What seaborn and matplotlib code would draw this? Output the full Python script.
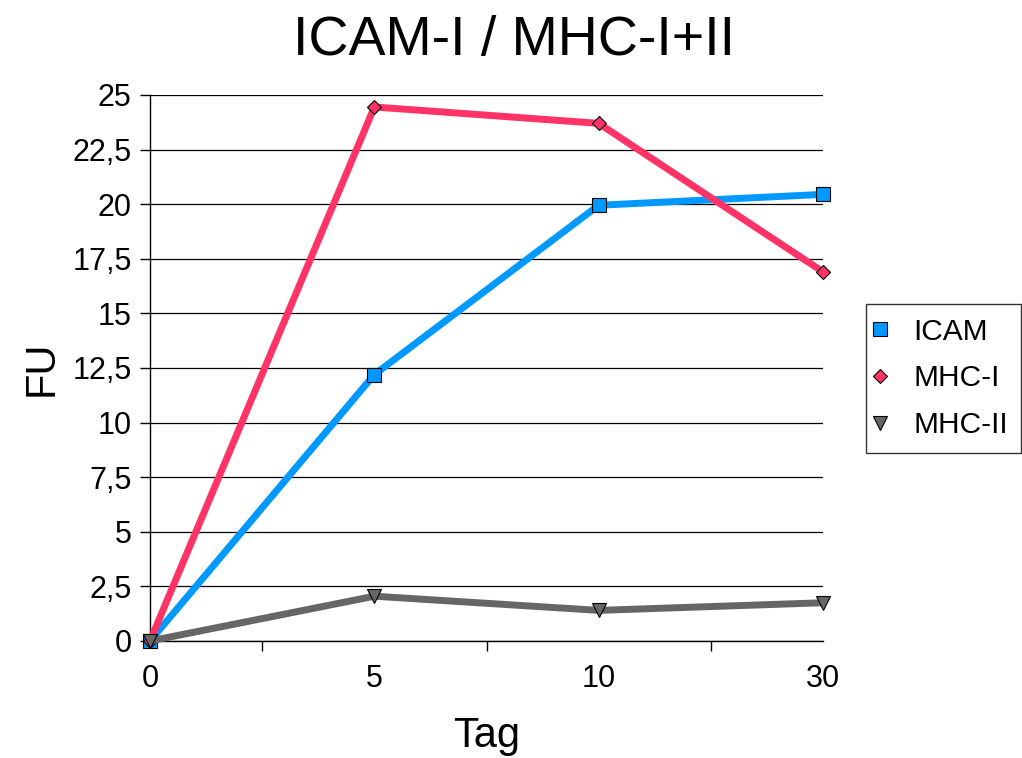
import matplotlib
matplotlib.use("Agg")
import matplotlib.pyplot as plt
from matplotlib.lines import Line2D
import seaborn as sns
import pandas as pd

# Measurement days and fluorescence units per marker
days = ["0", "5", "10", "30"]
icam = [0.0, 12.2, 19.95, 20.45]
mhc1 = [0.0, 24.45, 23.7, 16.9]
mhc2 = [0.0, 2.05, 1.4, 1.75]
series_names = ["ICAM", "MHC-I", "MHC-II"]
y_ticks = [0, 2.5, 5, 7.5, 10, 12.5, 15, 17.5, 20, 22.5, 25]

sns.set_theme(style="white")
plt.rcParams["font.family"] = ["Liberation Sans", "DejaVu Sans"]
plt.rcParams.update({
    "text.color": "black",
    "axes.labelcolor": "black",
    "xtick.color": "black",
    "ytick.color": "black",
})

colors = {"ICAM": "#0099ff", "MHC-I": "#ff3366", "MHC-II": "#666666"}
markers = {"ICAM": "s", "MHC-I": "D", "MHC-II": "v"}
msizes = {"ICAM": 10, "MHC-I": 7.5, "MHC-II": 10}

df = pd.DataFrame({
    "pos": list(range(len(days))) * 3,
    "FU": icam + mhc1 + mhc2,
    "series": [s for s in series_names for _ in days],
})

fig = plt.figure(figsize=(10.22, 7.58), dpi=100)
ax = fig.add_axes([0.1468, 0.1544, 0.6585, 0.7203])

for i, name in enumerate(series_names):
    sub = df[df["series"] == name]
    sns.lineplot(data=sub, x="pos", y="FU", ax=ax, color=colors[name],
                 linewidth=5, marker=markers[name], markersize=msizes[name],
                 markeredgecolor="black", markeredgewidth=0.8,
                 legend=False, zorder=3 + i, clip_on=False)

ax.set_xlim(0, len(days) - 1)
ax.set_ylim(0, 25)
ax.set_yticks(y_ticks)
ax.set_yticklabels([f"{v:g}".replace(".", ",") for v in y_ticks], fontsize=22)
ax.set_xticks(range(len(days)))
ax.set_xticklabels(days, fontsize=22)
ax.set_xticks([0.5, 1.5, 2.5], minor=True)
ax.tick_params(axis="x", which="major", bottom=True, length=0, pad=16.5)
ax.tick_params(axis="x", which="minor", bottom=True, length=7.2, width=1,
               color="black", direction="out")
ax.tick_params(axis="y", which="major", left=True, length=7.2, width=1,
               color="black", direction="out", pad=6)

ax.grid(axis="y", color="black", linewidth=0.9)
ax.set_axisbelow(True)
for side in ["top", "right"]:
    ax.spines[side].set_visible(False)
for side in ["left", "bottom"]:
    ax.spines[side].set_color("black")
    ax.spines[side].set_linewidth(1)

ax.set_xlabel("Tag", fontsize=30, labelpad=16)
ax.set_ylabel("FU", fontsize=30, labelpad=8)
fig.suptitle("ICAM-I / MHC-I+II", fontsize=40, x=0.503, y=0.98)

handles = [Line2D([], [], linestyle="none", marker=markers[n], color=colors[n],
                  markersize=msizes[n] * 0.95, markeredgecolor="black",
                  markeredgewidth=0.8) for n in series_names]
leg = fig.legend(handles, series_names, loc="center left",
                 bbox_to_anchor=(0.847, 0.5007), fontsize=21.5, frameon=True,
                 fancybox=False, edgecolor="black", handlelength=0.05,
                 handletextpad=1.09, labelspacing=0.63, borderpad=0.45,
                 borderaxespad=0)
leg.get_frame().set_linewidth(1)

fig.savefig("out.png", dpi=100)
